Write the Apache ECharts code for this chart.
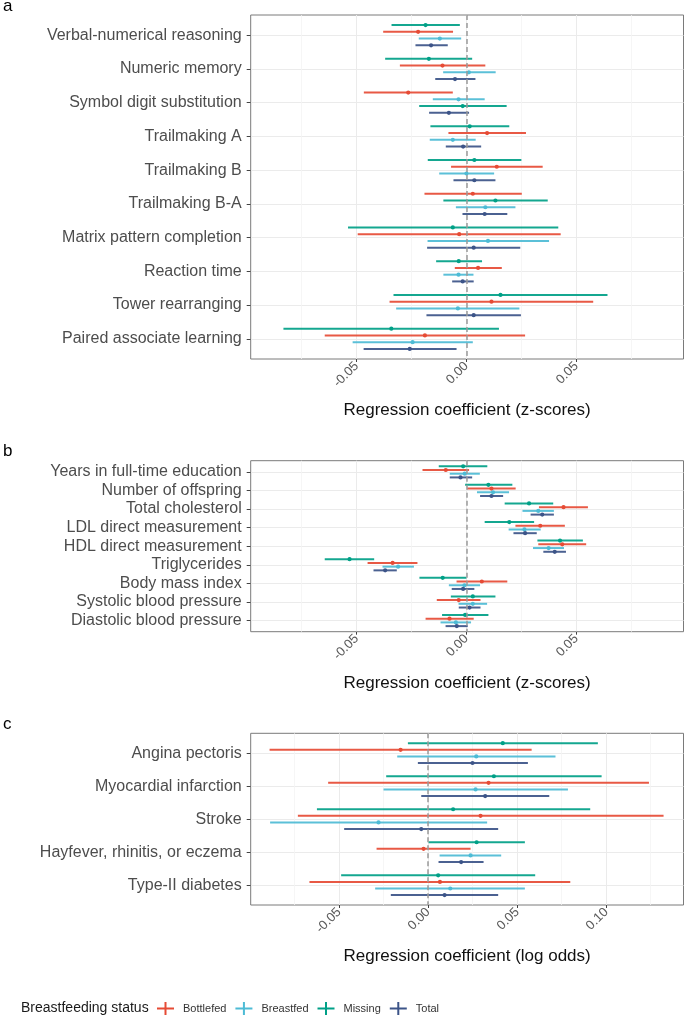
<!DOCTYPE html>
<html><head><meta charset="utf-8">
<script src="https://cdn.jsdelivr.net/npm/echarts@6/dist/echarts.min.js"></script>
<style>html,body{margin:0;padding:0;background:#fff}#c{width:685px;height:1020px}</style>
</head><body><div id="c"></div>
<script>
const statuses = ["Bottlefed", "Breastfed", "Missing", "Total"];
const colors = { Bottlefed: "#E64B35", Breastfed: "#4DBBD5", Missing: "#00A087", Total: "#3C5488" };

// ---- Panel a: cognitive (z-scores); each entry [estimate, lower, upper]
const catsA = ["Verbal-numerical reasoning", "Numeric memory", "Symbol digit substitution", "Trailmaking A",
  "Trailmaking B", "Trailmaking B-A", "Matrix pattern completion", "Reaction time", "Tower rearranging", "Paired associate learning"];
const aBottlefed = [[-0.0220,-0.0379,-0.0061],[-0.0109,-0.0303,0.0086],[-0.0265,-0.0467,-0.0062],[0.0094,-0.0082,0.0271],
  [0.0138,-0.0070,0.0347],[0.0029,-0.0191,0.0252],[-0.0033,-0.0495,0.0429],[0.0053,-0.0053,0.0161],[0.0114,-0.0350,0.0577],[-0.0189,-0.0645,0.0267]];
const aBreastfed = [[-0.0121,-0.0217,-0.0024],[0.0011,-0.0106,0.0133],[-0.0036,-0.0153,0.0083],[-0.0062,-0.0167,0.0042],
  [0.0000,-0.0124,0.0126],[0.0086,-0.0048,0.0223],[0.0098,-0.0177,0.0376],[-0.0036,-0.0105,0.0032],[-0.0039,-0.0320,0.0241],[-0.0245,-0.0518,0.0029]];
const aMissing = [[-0.0186,-0.0341,-0.0030],[-0.0171,-0.0370,0.0026],[-0.0017,-0.0215,0.0183],[0.0015,-0.0164,0.0195],
  [0.0036,-0.0176,0.0250],[0.0132,-0.0105,0.0370],[-0.0062,-0.0539,0.0418],[-0.0035,-0.0138,0.0071],[0.0155,-0.0332,0.0642],[-0.0342,-0.0833,0.0148]];
const aTotal = [[-0.0161,-0.0232,-0.0085],[-0.0052,-0.0142,0.0041],[-0.0080,-0.0170,0.0012],[-0.0015,-0.0094,0.0067],
  [0.0036,-0.0059,0.0132],[0.0083,-0.0018,0.0186],[0.0033,-0.0179,0.0245],[-0.0017,-0.0065,0.0033],[0.0033,-0.0182,0.0248],[-0.0258,-0.0468,-0.0045]];
// top-to-bottom order of the four estimates within each category
const stdOrder = ["Missing", "Bottlefed", "Breastfed", "Total"];
const orderA = [stdOrder, stdOrder, ["Bottlefed", "Breastfed", "Missing", "Total"], stdOrder, stdOrder,
  ["Bottlefed", "Missing", "Breastfed", "Total"], stdOrder, stdOrder, stdOrder, stdOrder];

// ---- Panel b: other continuous traits (z-scores)
const catsB = ["Years in full-time education", "Number of offspring", "Total cholesterol", "LDL direct measurement",
  "HDL direct measurement", "Triglycerides", "Body mass index", "Systolic blood pressure", "Diastolic blood pressure"];
const bBottlefed = [[-0.0094,-0.0200,0.0012],[0.0114,0.0003,0.0224],[0.0442,0.0330,0.0553],[0.0336,0.0223,0.0448],
  [0.0436,0.0327,0.0545],[-0.0336,-0.0450,-0.0223],[0.0070,-0.0045,0.0186],[-0.0035,-0.0135,0.0064],[-0.0077,-0.0186,0.0033]];
const bBreastfed = [[-0.0008,-0.0076,0.0061],[0.0121,0.0048,0.0194],[0.0327,0.0255,0.0398],[0.0264,0.0192,0.0338],
  [0.0374,0.0303,0.0444],[-0.0311,-0.0382,-0.0239],[-0.0009,-0.0080,0.0062],[0.0029,-0.0036,0.0094],[-0.0048,-0.0118,0.0021]];
const bMissing = [[-0.0015,-0.0126,0.0095],[0.0100,-0.0006,0.0209],[0.0285,0.0174,0.0395],[0.0195,0.0083,0.0308],
  [0.0426,0.0323,0.0530],[-0.0532,-0.0645,-0.0420],[-0.0108,-0.0214,0.0000],[0.0029,-0.0071,0.0132],[-0.0006,-0.0111,0.0100]];
const bTotal = [[-0.0027,-0.0076,0.0026],[0.0114,0.0062,0.0167],[0.0345,0.0292,0.0398],[0.0267,0.0214,0.0320],
  [0.0402,0.0350,0.0453],[-0.0370,-0.0423,-0.0317],[-0.0015,-0.0067,0.0036],[0.0014,-0.0035,0.0064],[-0.0044,-0.0095,0.0006]];
const orderB = catsB.map(() => stdOrder);

// ---- Panel c: disease outcomes (log odds)
const catsC = ["Angina pectoris", "Myocardial infarction", "Stroke", "Hayfever, rhinitis, or eczema", "Type-II diabetes"];
const cBottlefed = [[-0.0155,-0.0891,0.0581],[0.0339,-0.0562,0.1240],[0.0294,-0.0732,0.1322],[-0.0026,-0.0290,0.0238],[0.0066,-0.0667,0.0798]];
const cBreastfed = [[0.0270,-0.0174,0.0715],[0.0266,-0.0251,0.0785],[-0.0279,-0.0888,0.0331],[0.0238,0.0064,0.0410],[0.0124,-0.0298,0.0543]];
const cMissing = [[0.0419,-0.0114,0.0953],[0.0369,-0.0236,0.0974],[0.0140,-0.0625,0.0910],[0.0272,0.0002,0.0543],[0.0056,-0.0489,0.0601]];
const cTotal = [[0.0249,-0.0058,0.0560],[0.0320,-0.0039,0.0680],[-0.0039,-0.0472,0.0393],[0.0185,0.0058,0.0311],[0.0092,-0.0210,0.0393]];
const orderC = catsC.map(() => stdOrder);

// tick values
const majorsAB = [-0.05, 0, 0.05];
const minorsAB = [-0.075, -0.025, 0.025, 0.075];
const majorsC = [-0.05, 0, 0.05, 0.10];
const minorsC = [-0.075, -0.025, 0.025, 0.075, 0.125];

const panels = [
  { label: "a", cats: catsA, order: orderA, data: { Bottlefed: aBottlefed, Breastfed: aBreastfed, Missing: aMissing, Total: aTotal },
    xMin: -0.0982, xMax: 0.0988, majors: majorsAB, minors: minorsAB, title: "Regression coefficient (z-scores)",
    top: 15, height: 344, labelY: -2 },
  { label: "b", cats: catsB, order: orderB, data: { Bottlefed: bBottlefed, Breastfed: bBreastfed, Missing: bMissing, Total: bTotal },
    xMin: -0.0982, xMax: 0.0988, majors: majorsAB, minors: minorsAB, title: "Regression coefficient (z-scores)",
    top: 460.7, height: 171, labelY: 443 },
  { label: "c", cats: catsC, order: orderC, data: { Bottlefed: cBottlefed, Breastfed: cBreastfed, Missing: cMissing, Total: cTotal },
    xMin: -0.0997, xMax: 0.1434, majors: majorsC, minors: minorsC, title: "Regression coefficient (log odds)",
    top: 733.3, height: 171.7, labelY: 716 }
];

const FONT = "'Liberation Sans', Arial, Helvetica, sans-serif";
const grids = [], xAxes = [], yAxes = [], series = [], graphics = [];

panels.forEach((p, i) => {
  grids.push({ left: 250.7, right: 1.5, top: p.top, height: p.height, show: true, borderColor: "#7a7a7a", borderWidth: 1, containLabel: false });
  xAxes.push({
    gridIndex: i, type: "value", min: p.xMin, max: p.xMax, position: "bottom",
    axisLine: { show: false, onZero: false },
    axisTick: { show: true, length: 3, customValues: p.majors, lineStyle: { color: "#444" } },
    axisLabel: { customValues: p.majors, rotate: 45, formatter: v => v.toFixed(2), color: "#5a5a5a", fontSize: 13, margin: 5, fontFamily: FONT },
    splitLine: { show: true, lineStyle: { color: "#EBEBEB", width: 1 } },
    name: p.title, nameLocation: "middle", nameGap: 43,
    nameTextStyle: { fontSize: 17, color: "#111", fontFamily: FONT }
  });
  xAxes.push({
    gridIndex: i, type: "value", min: p.xMin, max: p.xMax, position: "bottom",
    axisLine: { show: false, onZero: false },
    axisTick: { show: false, customValues: p.minors },
    axisLabel: { show: false },
    splitLine: { show: true, lineStyle: { color: "#F4F4F4", width: 0.8 } }
  });
  const n = p.cats.length;
  const idx = p.cats.map((_, k) => k);
  yAxes.push({
    gridIndex: i, type: "value", inverse: true, min: -0.6, max: n - 0.4, position: "left",
    axisLine: { show: false, onZero: false },
    axisTick: { show: true, length: 4, customValues: idx, lineStyle: { color: "#444" } },
    axisLabel: { customValues: idx, formatter: v => p.cats[Math.round(v)] || "", color: "#4D4D4D", fontSize: 16, margin: 9, fontFamily: FONT },
    splitLine: { show: true, lineStyle: { color: "#EBEBEB", width: 1 } }
  });
  statuses.forEach((s, si) => {
    const color = colors[s];
    const rows = p.data[s].map((d, k) => {
      const slot = p.order[k].indexOf(s);
      return [d[0], d[1], d[2], k + (slot - 1.5) * 0.2];
    });
    const ser = {
      type: "custom", name: s, xAxisIndex: 2 * i, yAxisIndex: i, color: color,
      itemStyle: { color: color },
      encode: { x: [0, 1, 2], y: 3 },
      data: rows,
      renderItem: (params, api) => {
        const y = api.value(3);
        const a = api.coord([api.value(1), y]);
        const b = api.coord([api.value(2), y]);
        const e = api.coord([api.value(0), y]);
        return {
          type: "group", children: [
            { type: "line", shape: { x1: a[0], y1: a[1], x2: b[0], y2: b[1] }, style: { stroke: color, lineWidth: 2, opacity: 0.92 } },
            { type: "circle", shape: { cx: e[0], cy: e[1], r: 2.1 }, style: { fill: color } }
          ]
        };
      }
    };
    if (si === 0) {
      ser.markLine = {
        silent: true, symbol: "none", animation: false,
        label: { show: false },
        lineStyle: { color: "#9a9a9a", type: [5, 3], width: 1.5 },
        data: [{ xAxis: 0 }]
      };
    }
    series.push(ser);
  });
  graphics.push({ type: "text", left: 3, top: p.labelY, style: { text: p.label, fontSize: 17, fill: "#000", font: "17px " + FONT } });
});

const chart = echarts.init(document.getElementById("c"), null, { renderer: "canvas" });
chart.setOption({
  animation: false,
  textStyle: { fontFamily: FONT },
  title: { text: "Breastfeeding status", left: 21, top: 1001, padding: 0, textStyle: { fontSize: 14, fontWeight: "normal", color: "#1a1a1a", fontFamily: FONT } },
  legend: {
    data: statuses, left: 157, top: 1002, padding: 0, itemWidth: 17, itemHeight: 13, itemGap: 9,
    icon: "path://M0,5.5H7.5V0H9.5V5.5H17V7.5H9.5V13H7.5V7.5H0Z",
    textStyle: { fontSize: 11, color: "#333", padding: [0, 0, 0, 4], fontFamily: FONT }
  },
  grid: grids, xAxis: xAxes, yAxis: yAxes, series: series, graphic: graphics
});
</script></body></html>
